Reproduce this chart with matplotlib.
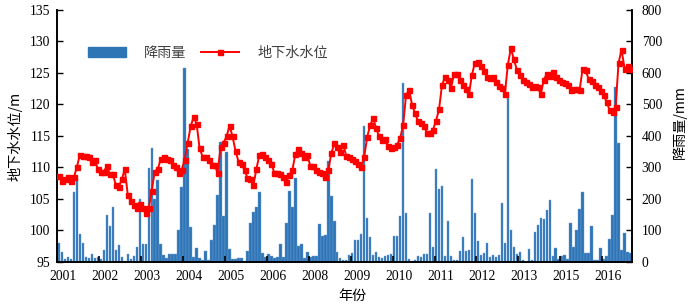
import matplotlib
matplotlib.use("Agg")
import matplotlib.pyplot as plt
from matplotlib.patches import Patch
from matplotlib.lines import Line2D
import numpy as np

# ---- data (monthly, 2001-01 .. 2016-12) ----
water_level = [
    108.7, 107.8, 108.1, 108.4, 107.8, 108.4, 110.1, 112.0, 111.8, 111.8, 111.7, 110.9,
    111.2, 109.7, 109.3, 109.3, 110.2, 108.9, 108.9, 107.2, 106.9, 108.1, 109.7, 105.6,
    104.6, 104.0, 103.5, 104.2, 103.5, 102.7, 103.5, 106.3, 109.3, 109.7, 111.3, 111.7,
    111.4, 111.2, 110.4, 110.0, 109.1, 109.6, 111.2, 113.9, 116.5, 118.0, 116.9, 113.0,
    111.7, 111.7, 111.1, 110.4, 110.4, 109.1, 113.2, 113.9, 114.9, 116.6, 114.9, 112.6,
    110.9, 110.5, 109.6, 108.3, 108.1, 107.2, 109.8, 112.0, 112.1, 111.7, 111.1, 110.5,
    109.1, 109.1, 108.9, 108.5, 107.7, 108.8, 109.6, 112.1, 112.9, 112.2, 111.7, 112.0,
    110.2, 110.2, 109.6, 109.3, 109.1, 108.4, 109.5, 112.2, 113.8, 113.3, 112.5, 113.6,
    111.8, 111.7, 111.4, 111.0, 110.6, 110.1, 111.7, 114.8, 116.7, 117.8, 116.2, 114.9,
    114.3, 114.5, 113.4, 113.0, 113.3, 113.6, 114.6, 116.7, 121.5, 122.3, 119.9, 118.6,
    117.3, 117.1, 116.6, 115.4, 115.5, 116.0, 117.4, 119.2, 123.1, 124.3, 123.9, 122.6,
    124.8, 124.8, 123.9, 123.1, 122.4, 121.6, 124.7, 126.6, 126.8, 126.1, 125.3, 124.3,
    124.2, 124.3, 123.6, 122.9, 122.6, 121.6, 126.3, 128.9, 127.2, 125.5, 124.7, 123.9,
    123.6, 123.3, 122.7, 123.0, 122.7, 121.6, 123.9, 124.8, 124.5, 125.2, 124.3, 123.9,
    123.6, 123.4, 123.1, 122.3, 122.4, 122.4, 122.3, 125.7, 125.4, 124.0, 123.7, 123.1,
    122.7, 122.2, 121.5, 120.4, 119.1, 118.8, 119.6, 126.6, 128.7, 125.7, 126.1, 125.6,
]

rainfall = [
    60, 30, 9, 16, 8, 220, 265, 87, 58, 16, 12, 24,
    12, 16, 9, 37, 149, 114, 175, 37, 53, 16, 3, 24,
    8, 18, 46, 200, 56, 56, 297, 361, 199, 260, 56, 21,
    12, 24, 24, 24, 101, 237, 617, 358, 111, 16, 42, 13,
    7, 35, 7, 68, 117, 212, 382, 146, 350, 40, 10, 10,
    13, 13, 3, 35, 124, 159, 173, 220, 29, 14, 24, 18,
    11, 14, 55, 16, 124, 226, 173, 265, 50, 56, 11, 32,
    16, 19, 19, 119, 82, 85, 321, 209, 130, 30, 11, 7,
    5, 21, 27, 69, 69, 88, 432, 138, 80, 21, 32, 14,
    11, 18, 21, 24, 83, 83, 145, 567, 154, 8, 3, 7,
    18, 14, 24, 24, 156, 48, 294, 230, 241, 18, 130, 18,
    5, 5, 35, 77, 35, 37, 262, 154, 67, 21, 27, 60,
    14, 21, 14, 21, 188, 60, 520, 100, 46, 24, 32, 5,
    0, 39, 7, 95, 117, 140, 135, 164, 196, 18, 45, 10,
    18, 21, 10, 122, 46, 100, 166, 222, 27, 27, 113, 7,
    7, 43, 10, 18, 71, 148, 555, 376, 37, 92, 32, 27,
]

year_labels = ["2001", "2002", "2003", "2004", "2005", "2006", "2008",
               "2009", "2010", "2011", "2012", "2013", "2015", "2016"]
label_interval = 14

left_ticks = [95, 100, 105, 110, 115, 120, 125, 130, 135]
right_ticks = [0, 100, 200, 300, 400, 500, 600, 700, 800]

# ---- style ----
SERIF = ["Liberation Serif", "Noto Sans CJK SC"]
CJK = ["Noto Sans CJK SC", "Liberation Serif"]
plt.rcParams["font.family"] = SERIF
plt.rcParams["axes.unicode_minus"] = False

n = len(water_level)
x = np.arange(n)

fig = plt.figure(figsize=(7.0, 3.08), dpi=100)
ax = fig.add_axes([0.0821, 0.1503, 0.8208, 0.8172])
ax2 = ax.twinx()

# bars on the right (rain) axis, drawn below the line
ax2.bar(x, rainfall, width=0.82, color="#2e75b6", edgecolor="#6fa0d6",
        linewidth=0.3, zorder=2)
ax2.set_ylim(0, 800)
ax2.set_yticks(right_ticks)

ax.plot(x, water_level, color="#ff0000", lw=1.4, marker="s", ms=3.6,
        mec="#ff0000", mfc="#ff0000", zorder=5)
ax.set_ylim(95, 135)
ax.set_yticks(left_ticks)
ax.set_xlim(-0.5, n - 0.5)

ax.set_zorder(ax2.get_zorder() + 1)
ax.patch.set_visible(False)

# x ticks: marks at group boundaries, labels slightly to the right
major_pos = [k * label_interval - 0.5 for k in range(len(year_labels))]
minor_pos = [k * label_interval + 1.5 for k in range(len(year_labels))]
ax.set_xticks(major_pos)
ax.set_xticklabels([""] * len(major_pos))
ax.set_xticks(minor_pos, minor=True)
ax.set_xticklabels(year_labels, minor=True)
ax.tick_params(axis="x", which="major", direction="in", length=4, width=1.2,
               color="black")
ax.tick_params(axis="x", which="minor", length=0, pad=6, labelsize=9.8)
ax.tick_params(axis="y", direction="in", length=4, width=1.0, pad=5,
               labelsize=9.8)
ax2.tick_params(axis="y", direction="in", length=4, width=1.0, pad=7,
                labelsize=9.8)

for a in (ax, ax2):
    a.spines["top"].set_visible(False)
    for s in ("left", "right", "bottom"):
        a.spines[s].set_linewidth(1.2)

# axis titles
fig.text(0.021, 0.558, "地下水水位/m", rotation=90, ha="center", va="center",
         fontsize=10.2, family=CJK)
fig.text(0.971, 0.605, "降雨量/mm", rotation=90, ha="center", va="center",
         fontsize=10.2, family=CJK)
fig.text(0.503, 0.039, "年份", ha="center", va="center", fontsize=10.2,
         family=CJK)

# legend
handles = [Patch(facecolor="#2e75b6", edgecolor="#2e75b6"),
           Line2D([0], [0], color="#ff0000", lw=1.4, marker="s", ms=3.6)]
leg = fig.legend(handles, ["降雨量", "地下水水位"], loc="center",
                 bbox_to_anchor=(0.297, 0.828), ncol=2, frameon=False,
                 handlelength=2.7, handleheight=0.8, handletextpad=1.3,
                 columnspacing=1.0, prop={"family": CJK, "size": 10.2})
for t in leg.get_texts():
    t.set_color("#404040")

fig.savefig("out.png", dpi=100)
